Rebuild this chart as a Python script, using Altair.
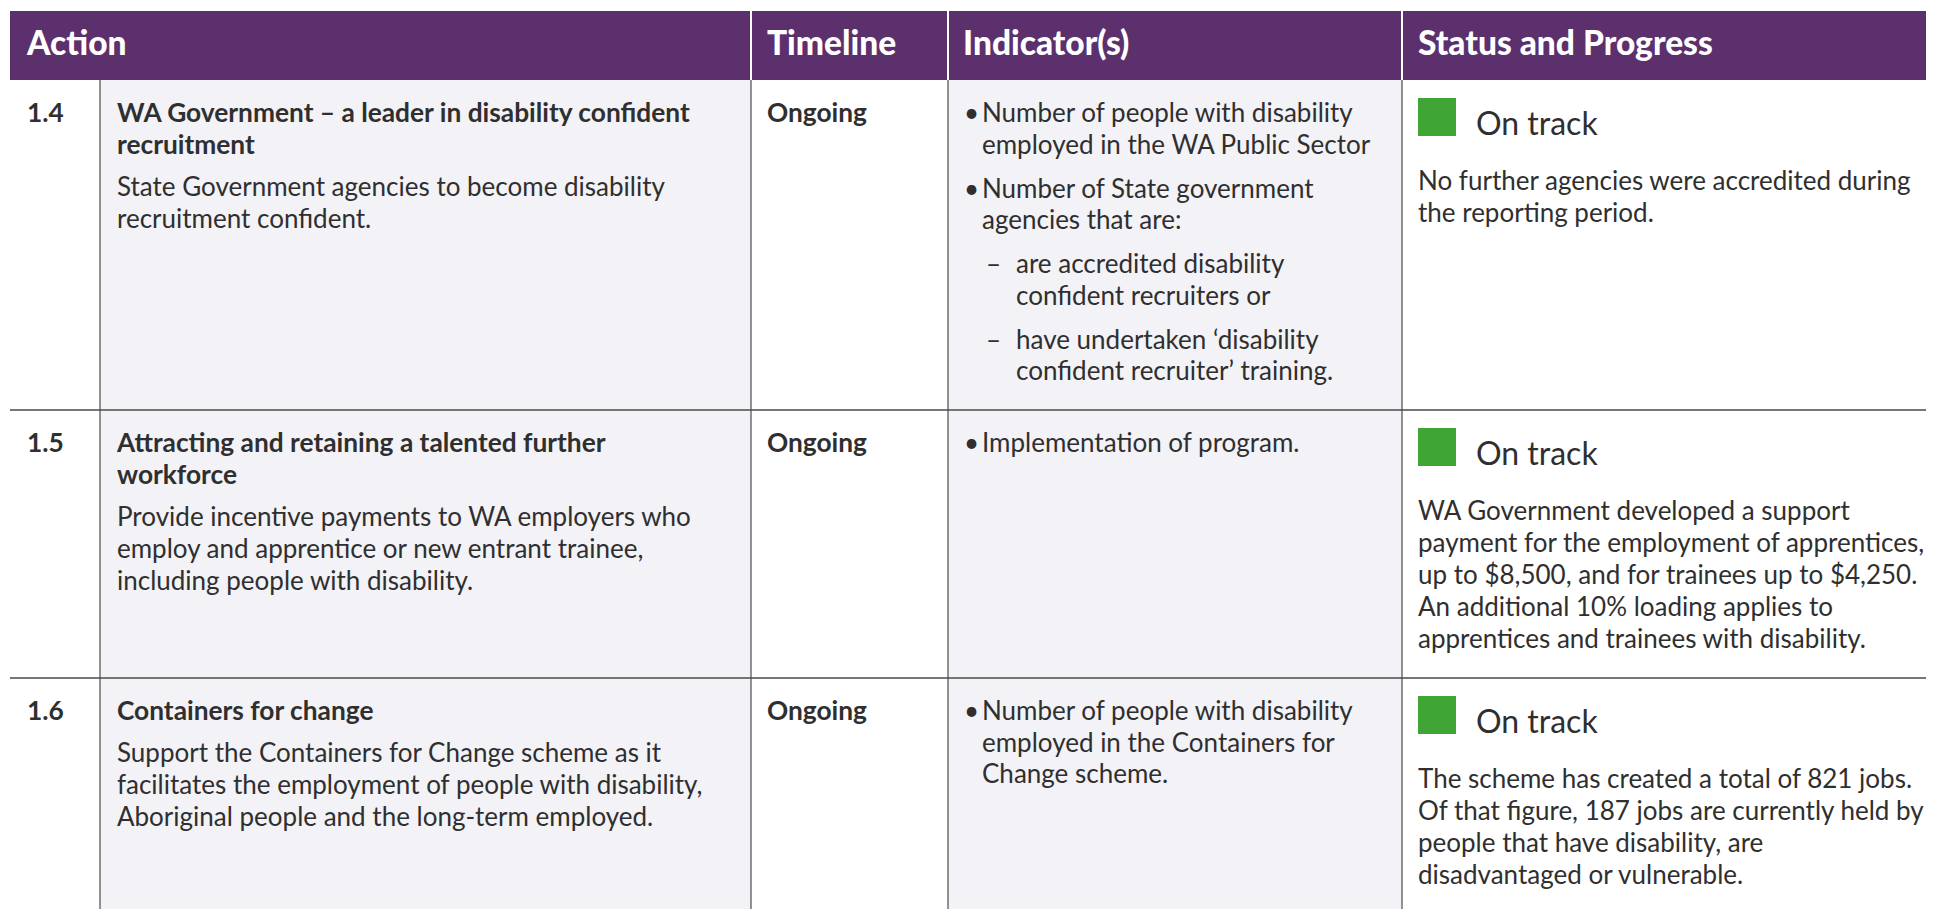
import altair as alt
import pandas as pd

# ---------------- data ----------------
headers = ["Action", "Timeline", "Indicator(s)", "Status and Progress"]
numbers = ["1.4", "1.5", "1.6"]
titles = [
    ["WA Government – a leader in disability confident", "recruitment"],
    ["Attracting and retaining a talented further", "workforce"],
    ["Containers for change"],
]
descriptions = [
    ["State Government agencies to become disability", "recruitment confident."],
    ["Provide incentive payments to WA employers who",
     "employ and apprentice or new entrant trainee,",
     "including people with disability."],
    ["Support the Containers for Change scheme as it",
     "facilitates the employment of people with disability,",
     "Aboriginal people and the long-term employed."],
]
timelines = ["Ongoing", "Ongoing", "Ongoing"]
indicator_marks = [["•", "•", "–", "–"], ["•"], ["•"]]
indicator_lines = [
    [["Number of people with disability", "employed in the WA Public Sector"],
     ["Number of State government", "agencies that are:"],
     ["are accredited disability", "confident recruiters or"],
     ["have undertaken ‘disability", "confident recruiter’ training."]],
    [["Implementation of program."]],
    [["Number of people with disability", "employed in the Containers for", "Change scheme."]],
]
statuses = ["On track", "On track", "On track"]
progress = [
    ["No further agencies were accredited during", "the reporting period."],
    ["WA Government developed a support",
     "payment for the employment of apprentices,",
     "up to $8,500, and for trainees up to $4,250.",
     "An additional 10% loading applies to",
     "apprentices and trainees with disability."],
    ["The scheme has created a total of 821 jobs.",
     "Of that figure, 187 jobs are currently held by",
     "people that have disability, are",
     "disadvantaged or vulnerable."],
]

# ---------------- layout ----------------
COL = [10, 100, 751, 948, 1402, 1934]
HEAD = (11, 80)
ROW_TOP = [80, 410, 678]
ROW_BOT = [410, 678, 909]
LH = 32
FIRST = 42
PURPLE = "#5c2f6d"
LAVENDER = "#f3f2f7"
GREEN = "#3fa535"
INK = "#2f2f2f"
LINE = "#4a4a4a"
FONT = "Lato"

xs = alt.Scale(domain=[8, 1926], nice=False, zero=False)
ys = alt.Scale(domain=[8, 909], nice=False, zero=False, reverse=True)

def enc_rect():
    return dict(x=alt.X("x:Q", scale=xs, axis=None), x2="x2:Q",
                y=alt.Y("y:Q", scale=ys, axis=None), y2="y2:Q")

# rectangles
rects = [dict(x=COL[0], x2=COL[5], y=HEAD[0], y2=HEAD[1], fill=PURPLE)]
for c0, c1 in [(COL[1], COL[2]), (COL[3], COL[4])]:
    rects.append(dict(x=c0, x2=c1, y=HEAD[1], y2=ROW_BOT[-1], fill=LAVENDER))
for t in ROW_TOP:
    rects.append(dict(x=1418, x2=1456, y=t + 18, y2=t + 56, fill=GREEN))
rect_df = pd.DataFrame(rects)
rect_layer = alt.Chart(rect_df).mark_rect(clip=True).encode(
    **enc_rect(), fill=alt.Fill("fill:N", scale=None))

# lines
vl = [dict(x=c, x2=c, y=HEAD[1], y2=ROW_BOT[-1]) for c in COL[1:5]]
vline = alt.Chart(pd.DataFrame(vl)).mark_rule(color=LINE, strokeWidth=1.2, clip=True).encode(
    x=alt.X("x:Q", scale=xs, axis=None), y=alt.Y("y:Q", scale=ys, axis=None), y2="y2:Q")
hw = [dict(x=c, y=HEAD[0], y2=HEAD[1]) for c in COL[2:5]]
hline_w = alt.Chart(pd.DataFrame(hw)).mark_rule(color="white", strokeWidth=2).encode(
    x=alt.X("x:Q", scale=xs, axis=None), y=alt.Y("y:Q", scale=ys, axis=None), y2="y2:Q")
hl = [dict(x=COL[0], x2=COL[5], y=b) for b in ROW_BOT[:-1]]
hline = alt.Chart(pd.DataFrame(hl)).mark_rule(color=LINE, strokeWidth=1.6, clip=True).encode(
    x=alt.X("x:Q", scale=xs, axis=None), x2="x2:Q", y=alt.Y("y:Q", scale=ys, axis=None))

# texts
head_rows, bold_rows, body_rows, big_rows = [], [], [], []
for h, x in zip(headers, [27, 767, 963, 1418]):
    head_rows.append(dict(x=x, y=55, t=h))
for i, top in enumerate(ROW_TOP):
    y0 = top + FIRST
    bold_rows.append(dict(x=27, y=y0, t=numbers[i]))
    bold_rows.append(dict(x=767, y=y0, t=timelines[i]))
    y = y0
    for ln in titles[i]:
        bold_rows.append(dict(x=117, y=y, t=ln))
        y += LH
    y += 10
    for ln in descriptions[i]:
        body_rows.append(dict(x=117, y=y, t=ln))
        y += LH
    y = y0
    for mk, lines in zip(indicator_marks[i], indicator_lines[i]):
        if mk == "•":
            body_rows.append(dict(x=964, y=y, t=mk))
            tx = 982
        else:
            body_rows.append(dict(x=986, y=y, t=mk))
            tx = 1016
        for ln in lines:
            body_rows.append(dict(x=tx, y=y, t=ln))
            y += 31.5
        y += 12.5
    big_rows.append(dict(x=1476, y=top + 55, t=statuses[i]))
    y = top + 110
    for ln in progress[i]:
        body_rows.append(dict(x=1418, y=y, t=ln))
        y += LH

def text_layer(rows, size, weight, color):
    return alt.Chart(pd.DataFrame(rows)).mark_text(
        align="left", baseline="alphabetic", font=FONT, fontSize=size,
        fontWeight=weight, color=color, clip=True).encode(
        x=alt.X("x:Q", scale=xs, axis=None), y=alt.Y("y:Q", scale=ys, axis=None),
        text="t:N")

chart = alt.layer(
    rect_layer, vline, hline, hline_w,
    text_layer(head_rows, 33.5, 900, "white"),
    text_layer(bold_rows, 26.3, 700, INK),
    text_layer(body_rows, 26, 400, INK),
    text_layer(big_rows, 32, 400, INK),
).properties(width=1918, height=901, padding=0, autosize="none").configure_view(stroke=None)

chart.save("out.html", embed_options={"renderer": "svg", "actions": False})
